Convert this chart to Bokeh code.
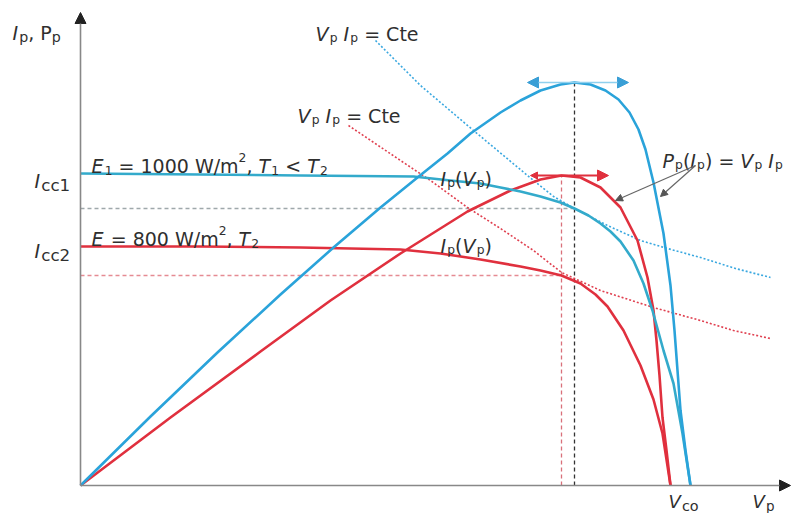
from bokeh.plotting import figure
from bokeh.models import Range1d, Arrow, NormalHead, ColumnDataSource
from bokeh.core.properties import value
from bokeh.embed import file_html
from bokeh.resources import INLINE

# ---------------- data (arbitrary units) ----------------
# Module at E1 = 1000 W/m2, T1 (blue)
v1_iv = [0, 12, 22, 33.3, 37, 40, 42, 44, 46, 48, 49.4, 50.8, 52, 53, 54, 55.3, 56.3, 57.2, 58.3, 59.3, 60.2, 61]
i1_iv = [31.2, 31.1, 31.0, 30.9, 30.5, 30.2, 29.8, 29.4, 28.9, 28.3, 27.7, 27.0, 26.2, 25.4, 24.4, 22.5,
         20.2, 17.5, 13.5, 10.2, 5.2, 0]
v1_p = [0, 7, 13.7, 20, 25.3, 30, 33.7, 36.7, 39, 42, 44, 46, 48, 49.4, 51, 52.5, 53.8, 54.9, 55.8,
        56.5, 57.3, 58.3, 59, 59.4, 59.7, 60, 60.5, 61]
p1 = [0, 6.9, 13.3, 19.1, 23.8, 27.8, 30.8, 33.2, 35.2, 37.3, 38.5, 39.5, 40.1, 40.3, 40.1, 39.5, 38.6,
      37.3, 35.6, 33.6, 30.3, 25.2, 20.0, 15.5, 11.5, 7.5, 3.5, 0]

# Module at E = 800 W/m2, T2 (red)
v2_iv = [0, 12, 22, 32, 36, 40, 44, 46, 48.1, 50, 51.5, 52.7, 54.3, 56, 57.3, 58.2, 59]
i2_iv = [23.9, 23.9, 23.8, 23.6, 23.2, 22.6, 21.9, 21.5, 21.0, 20.2, 19.1, 17.9, 15.5, 12.0, 8.6, 5.2, 0]
v2_p = [0, 9, 18, 25, 32, 38.7, 43, 46, 48.1, 50, 52, 54, 55.7, 56.7, 57.3, 57.6, 57.9, 58.2, 58.6, 59]
p2 = [0, 6.8, 13.4, 18.5, 23.2, 27.4, 29.5, 30.6, 31.0, 30.8, 29.8, 27.8, 24.5, 20.8, 17.5, 14.5, 11.0,
      6.8, 3.5, 0]

# constant-power hyperbolas Vp Ip = Cte
vh1 = [29.5, 34, 39.3, 45.3, 47.3, 49.4, 52.7, 56, 58.7, 62, 65.5, 69]
ih1 = [44.5, 40, 35.5, 30.5, 28.9, 27.7, 26, 24.5, 23.7, 22.8, 21.7, 20.8]
vh2 = [26.8, 32, 35, 38.7, 42, 45.3, 48.1, 52, 57.3, 62, 65.3, 69]
ih2 = [36, 32.5, 30.5, 27.8, 25.7, 23.5, 21.3, 19.5, 17.8, 16.5, 15.5, 14.7]

# maximum power points [blue, red]
vmp = [49.4, 48.1]
imp = [27.7, 21.0]
pmp = [40.3, 31.0]

BLUE = "#2aa3da"
BLUE_IV = "#33aacb"
RED = "#e0303e"
TXT = "#2f2f2f"

p = figure(width=801, height=513, x_range=Range1d(-8.0, 72.1), y_range=Range1d(-2.8, 48.5),
           output_backend="svg", toolbar_location=None, min_border=0,
           x_axis_type=None, y_axis_type=None)
p.grid.visible = False
p.outline_line_color = None
p.background_fill_color = "white"
p.border_fill_color = "white"

# dashed guide lines at the maximum power points
p.line([0, vmp[0]], [imp[0], imp[0]], line_color="#9fa8ab", line_dash="4 3", line_width=1.3)
p.line([0, vmp[1]], [imp[1], imp[1]], line_color="#e58b93", line_dash="4 3", line_width=1.3)
p.line([vmp[1], vmp[1]], [0, pmp[1]], line_color="#d9707a", line_dash="4 3", line_width=1.3)
p.line([vmp[0], vmp[0]], [0, pmp[0]], line_color="#333333", line_dash="4 3", line_width=1.3)

# hyperbolas
p.line(vh1, ih1, line_color="#3aa8e0", line_dash="2 2", line_width=1.6)
p.line(vh2, ih2, line_color="#e04050", line_dash="2 2", line_width=1.6)

# curves
p.line(v2_iv, i2_iv, line_color=RED, line_width=2.6, line_join="round")
p.line(v2_p, p2, line_color=RED, line_width=2.6, line_join="round")
p.line(v1_iv, i1_iv, line_color=BLUE_IV, line_width=2.6, line_join="round")
p.line(v1_p, p1, line_color=BLUE, line_width=2.6, line_join="round")

# axes with arrowheads
p.add_layout(Arrow(end=NormalHead(size=11, fill_color="#222", line_color="#222"),
                   x_start=0, y_start=0, x_end=0, y_end=47.3, line_color="#888", line_width=1.6))
p.add_layout(Arrow(end=NormalHead(size=11, fill_color="#222", line_color="#222"),
                   x_start=0, y_start=0, x_end=71.0, y_end=0, line_color="#888", line_width=1.6))

# MPP tracking arrows
p.add_layout(Arrow(start=NormalHead(size=11, fill_color="#3a9fd6", line_color="#3a9fd6"),
                   end=NormalHead(size=11, fill_color="#3a9fd6", line_color="#3a9fd6"),
                   x_start=44.7, y_start=pmp[0], x_end=54.8, y_end=pmp[0],
                   line_color="#8fd0ee", line_width=1.5))
p.add_layout(Arrow(start=NormalHead(size=7, fill_color=RED, line_color=RED),
                   end=NormalHead(size=11, fill_color=RED, line_color=RED),
                   x_start=45.0, y_start=pmp[1], x_end=52.8, y_end=pmp[1],
                   line_color=RED, line_width=2))

# pointer arrows from the Pp(Ip) label
for xe, ye in [(53.5, 28.5), (58.0, 28.9)]:
    p.add_layout(Arrow(end=NormalHead(size=7, fill_color="#555", line_color="#555"),
                       x_start=61.5, y_start=32.0, x_end=xe, y_end=ye,
                       line_color="#666", line_width=1.2))

# ---------------- rich text labels ----------------
WID = {' ': 0.318, ',': 0.318, '(': 0.39, ')': 0.39, '/': 0.337, '<': 0.838, '=': 0.838,
       'C': 0.698, 'E': 0.632, 'I': 0.295, 'P': 0.603, 'T': 0.611, 'V': 0.684, 'W': 0.989,
       'c': 0.55, 'e': 0.615, 'm': 0.974, 'o': 0.612, 'p': 0.635, 't': 0.392}


def tw(s, fs):
    return sum(WID.get(ch, 0.636) for ch in s) * fs


groups = {}


def rich(x, y, runs, size=19, sub=0.65, color=TXT):
    off = 0.0
    for txt, kind in runs:
        if kind in ("sub", "sup"):
            fs = size * sub
            dy = size * 0.24 if kind == "sub" else -size * 0.42
            style = "normal"
        else:
            fs = size
            dy = 0.0
            style = "italic" if kind == "i" else "normal"
        core = txt.strip(" ")
        if not core:
            off += len(txt) * WID[" "] * fs
            continue
        lead = len(txt) - len(txt.lstrip(" "))
        trail = len(txt) - len(txt.rstrip(" "))
        off += lead * WID[" "] * fs
        g = groups.setdefault(style, dict(x=[], y=[], text=[], xo=[], yo=[], fs=[], color=[]))
        g["x"].append(x)
        g["y"].append(y)
        g["text"].append(core)
        g["xo"].append(off)
        g["yo"].append(dy)
        g["fs"].append(f"{fs:.1f}px")
        g["color"].append(color)
        off += tw(core, fs) + (size * 0.06 if kind == "i" else 0)
        off += trail * WID[" "] * fs


rich(-6.8, 45.3, [("I", "i"), ("p", "sub"), (", P", "n"), ("p", "sub")], size=19, sub=0.75)
rich(-4.6, 30.5, [("I", "i"), ("cc1", "sub")], size=19, sub=0.88)
rich(-4.6, 23.5, [("I", "i"), ("cc2", "sub")], size=19, sub=0.88)
rich(1.1, 32.0, [("E", "i"), ("1", "sub"), (" = 1000 W/m", "n"), ("2", "sup"), (", ", "n"),
                 ("T", "i"), ("1", "sub"), (" < ", "n"), ("T", "i"), ("2", "sub")])
rich(1.1, 24.7, [("E", "i"), (" = 800 W/m", "n"), ("2", "sup"), (", ", "n"), ("T", "i"), ("2", "sub")])
rich(23.5, 45.2, [("V", "i"), ("p", "sub"), (" ", "n"), ("I", "i"), ("p", "sub"), (" = Cte", "n")])
rich(21.7, 37.0, [("V", "i"), ("p", "sub"), (" ", "n"), ("I", "i"), ("p", "sub"), (" = Cte", "n")])
rich(36.0, 30.7, [("I", "i"), ("p", "sub"), ("(", "n"), ("V", "i"), ("p", "sub"), (")", "n")])
rich(36.0, 24.0, [("I", "i"), ("p", "sub"), ("(", "n"), ("V", "i"), ("p", "sub"), (")", "n")])
rich(58.2, 32.5, [("P", "i"), ("p", "sub"), ("(", "n"), ("I", "i"), ("p", "sub"), (") = ", "n"),
                  ("V", "i"), ("p", "sub"), (" ", "n"), ("I", "i"), ("p", "sub")])
rich(58.8, -1.6, [("V", "i"), ("co", "sub")], size=18, sub=0.8)
rich(67.2, -1.6, [("V", "i"), ("p", "sub")], size=18, sub=0.75)

for style, g in groups.items():
    src = ColumnDataSource(g)
    p.text(x="x", y="y", text="text", x_offset="xo", y_offset="yo", text_font_size="fs",
           text_color="color", source=src, text_font=value("DejaVu Sans"),
           text_font_style=style, text_baseline="alphabetic", text_align="left")

open("out.html", "w").write(file_html(p, INLINE))
